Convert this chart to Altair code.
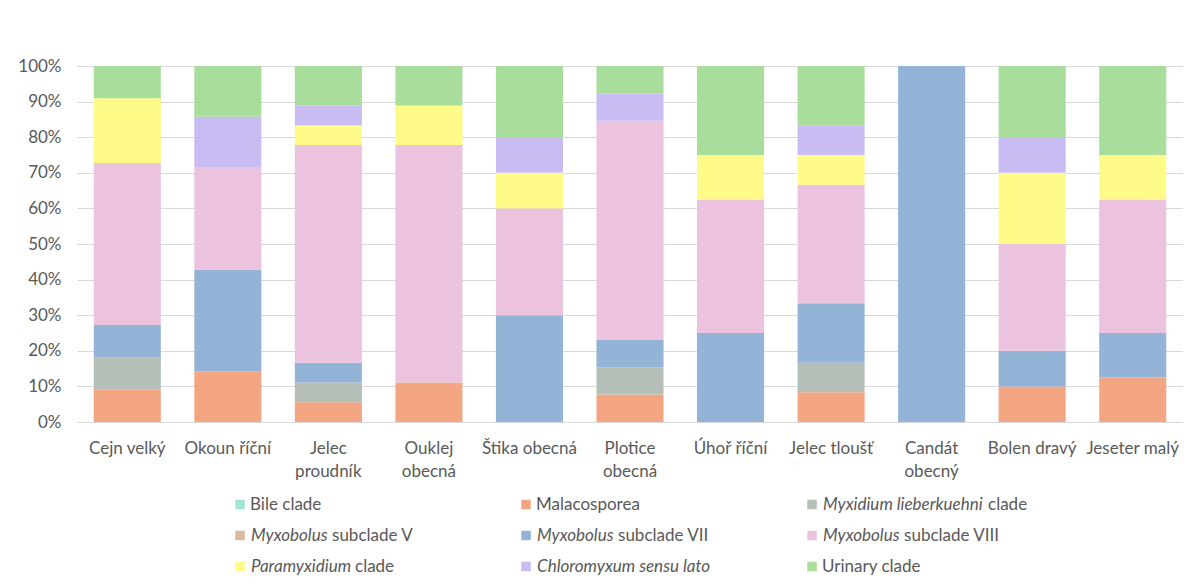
import altair as alt
import pandas as pd

categories = ["Cejn velký", "Okoun říční", "Jelec proudník", "Ouklej obecná", "Štika obecná",
              "Plotice obecná", "Úhoř říční", "Jelec tloušť", "Candát obecný", "Bolen dravý", "Jeseter malý"]
wrapped = ["Jelec proudník", "Ouklej obecná", "Plotice obecná", "Candát obecný"]

series = ["Bile clade", "Malacosporea", "Myxidium lieberkuehni clade", "Myxobolus subclade V",
          "Myxobolus subclade VII", "Myxobolus subclade VIII", "Paramyxidium clade",
          "Chloromyxum sensu lato", "Urinary clade"]
italic_part = ["", "", "Myxidium lieberkuehni", "Myxobolus", "Myxobolus", "Myxobolus",
               "Paramyxidium", "Chloromyxum sensu lato", ""]
normal_part = ["Bile clade", "Malacosporea", "clade", "subclade V", "subclade VII", "subclade VIII",
               "clade", "", "Urinary clade"]
colors = ["#A0E5D5", "#F4A582", "#B5BFB8", "#D9B99B", "#93B4D7", "#ECC3DF", "#FEFB88", "#C8BCF2", "#A8DD9C"]

# counts per category (same order as categories)
bile = [0, 0, 0, 0, 0, 0, 0, 0, 0, 0, 0]
malacosporea = [1, 1, 1, 1, 0, 1, 0, 1, 0, 1, 1]
myxidium = [1, 0, 1, 0, 0, 1, 0, 1, 0, 0, 0]
myxobolus_v = [0, 0, 0, 0, 0, 0, 0, 0, 0, 0, 0]
myxobolus_vii = [1, 2, 1, 0, 3, 1, 2, 2, 1, 1, 1]
myxobolus_viii = [5, 2, 11, 6, 3, 8, 3, 4, 0, 3, 3]
paramyxidium = [2, 0, 1, 1, 1, 0, 1, 1, 0, 2, 1]
chloromyxum = [0, 1, 1, 0, 1, 1, 0, 1, 0, 1, 0]
urinary = [1, 1, 2, 1, 2, 1, 2, 2, 0, 2, 2]

values = [bile, malacosporea, myxidium, myxobolus_v, myxobolus_vii, myxobolus_viii,
          paramyxidium, chloromyxum, urinary]

rows = []
for si, (name, vals) in enumerate(zip(series, values)):
    for ci, cat in enumerate(categories):
        rows.append({"category": cat, "series": name, "order": si, "count": vals[ci]})
df = pd.DataFrame(rows)

FONT = "Lato"
TXT = "#595959"
FS = 17

label_expr = ("indexof([" + ",".join(f"'{w}'" for w in wrapped) +
              "], datum.value) >= 0 ? split(datum.value, ' ') : datum.value")

color_scale = alt.Scale(domain=series, range=colors)
no_border = alt.ViewBackground(stroke="transparent", strokeWidth=0)

bars = alt.Chart(df).mark_bar().encode(
    x=alt.X("category:N", sort=categories, title=None,
            scale=alt.Scale(paddingInner=0.333, paddingOuter=0.1667),
            axis=alt.Axis(labelAngle=0, labelExpr=label_expr, ticks=False, domain=False,
                          labelFontSize=FS, labelColor=TXT, labelFont=FONT, labelPadding=18,
                          labelLineHeight=23, labelOverlap=False, grid=False)),
    y=alt.Y("count:Q", stack="normalize", title=None, scale=alt.Scale(domain=[0, 1]),
            axis=alt.Axis(format=".0%", values=[i / 10 for i in range(11)], ticks=False,
                          domain=False, labelPadding=16, labelFontSize=FS, labelColor=TXT,
                          labelFont=FONT, gridColor="#d9d9d9", gridWidth=1)),
    color=alt.Color("series:N", scale=color_scale, legend=None),
    order=alt.Order("order:Q", sort="ascending"),
).properties(width=1106, height=356, view=no_border)

leg_df = pd.DataFrame({
    "series": series,
    "col": [i % 3 for i in range(9)],
    "row": [i // 3 for i in range(9)],
    "italic": italic_part,
    "normal": normal_part,
})

base = alt.Chart(leg_df).encode(
    x=alt.X("col:Q", scale=alt.Scale(domain=[-0.570, 3.297]), axis=None),
    y=alt.Y("row:Q", scale=alt.Scale(domain=[-0.5, 2.5], reverse=True), axis=None),
)

swatch = base.mark_square(size=90, opacity=1).encode(
    color=alt.Color("series:N", scale=color_scale, legend=None))
plain = base.transform_filter("datum.italic == ''").mark_text(
    align="left", dx=10, fontSize=FS, font=FONT, color=TXT).encode(text="normal:N")
ital = base.transform_filter("datum.italic != ''").mark_text(
    align="left", dx=11, fontSize=FS, font=FONT, color=TXT, fontStyle="italic").encode(text="italic:N")

suffix_dx = {"Myxidium lieberkuehni": 176, "Myxobolus": 92, "Paramyxidium": 115}
suffix_layers = [
    base.transform_filter(f"datum.italic == '{p}'").mark_text(
        align="left", dx=d, fontSize=FS, font=FONT, color=TXT).encode(text="normal:N")
    for p, d in suffix_dx.items()
]

legend = alt.layer(swatch, plain, ital, *suffix_layers).properties(
    width=1106, height=93, view=no_border)

chart = alt.vconcat(bars, legend, spacing=67, bounds="flush").properties(
    padding={"left": 9, "top": 49, "right": 0, "bottom": 0}
).configure_view(stroke="transparent", strokeWidth=0).configure(font=FONT)

chart.save("out.html", embed_options={"renderer": "svg", "actions": False})
